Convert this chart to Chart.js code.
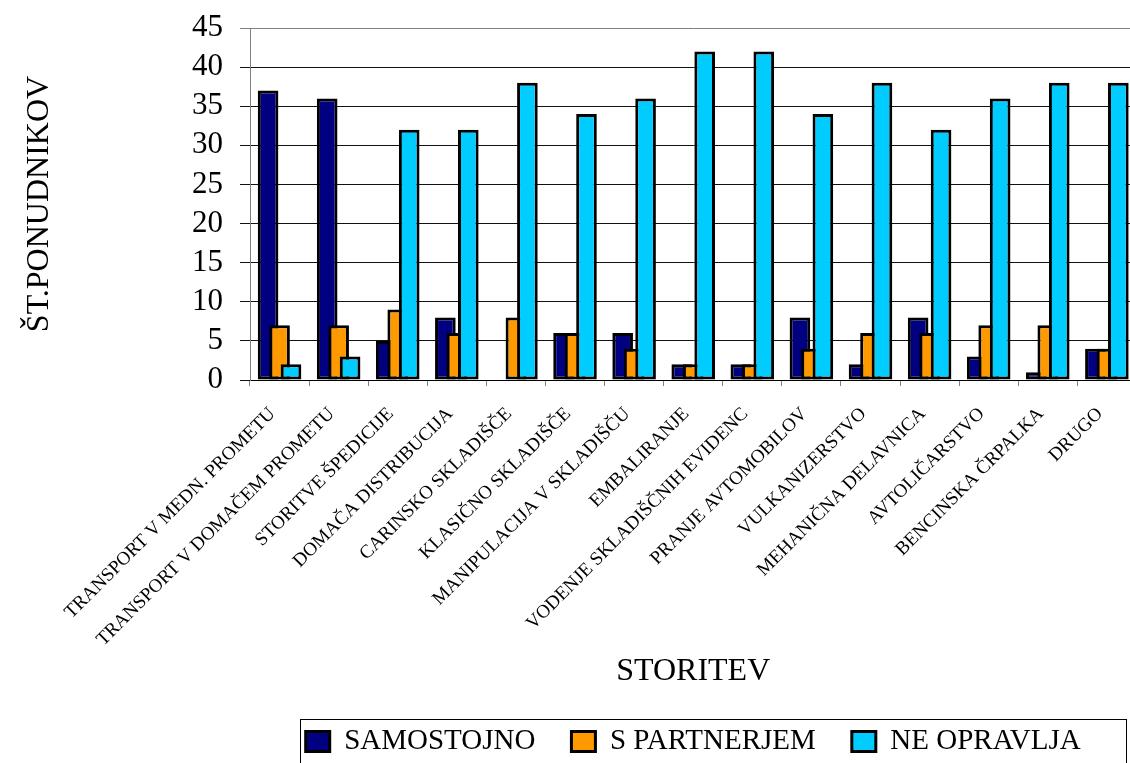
<!DOCTYPE html>
<html>
<head>
<meta charset="utf-8">
<title>Storitve ponudnikov</title>
<script src="https://cdn.jsdelivr.net/npm/chart.js"></script>
<style>
  html, body { margin: 0; padding: 0; background: #fff; overflow: hidden; }
  #wrap { width: 1140px; height: 763px; }
</style>
</head>
<body>
<div id="wrap"><canvas id="c" width="1140" height="763"></canvas></div>
<script>
// Services offered
const categories = [
  'TRANSPORT V MEDN. PROMETU',
  'TRANSPORT V DOMAČEM PROMETU',
  'STORITVE ŠPEDICIJE',
  'DOMAČA DISTRIBUCIJA',
  'CARINSKO SKLADIŠČE',
  'KLASIČNO SKLADIŠČE',
  'MANIPULACIJA V SKLADIŠČU',
  'EMBALIRANJE',
  'VODENJE SKLADIŠČNIH EVIDENC',
  'PRANJE AVTOMOBILOV',
  'VULKANIZERSTVO',
  'MEHANIČNA DELAVNICA',
  'AVTOLIČARSTVO',
  'BENCINSKA ČRPALKA',
  'DRUGO'
];

// Number of providers per answer
const samostojno  = [37, 36, 5, 8, 0, 6, 6, 2, 2, 8, 2, 8, 3, 1, 4];
const sPartnerjem = [7, 7, 9, 6, 8, 6, 4, 2, 2, 4, 6, 6, 7, 7, 4];
const neOpravlja  = [2, 3, 32, 32, 38, 34, 36, 42, 42, 34, 38, 32, 36, 38, 38];

const seriesNames = ['SAMOSTOJNO', 'S PARTNERJEM', 'NE OPRAVLJA'];
const yTicks = [0, 5, 10, 15, 20, 25, 30, 35, 40, 45];

const SERIF = "'Liberation Serif', 'Times New Roman', serif";
const colors = ['#000080', '#FF9900', '#00CCFF'];

// Later series are painted over earlier ones so the overlapping bars stack left-to-right
const paintInOrder = {
  id: 'paintInOrder',
  beforeDatasetsDraw(chart) {
    chart.getSortedVisibleDatasetMetas().forEach(m => chart._drawDataset(m));
    return false;
  }
};

// Frame around the legend row
const legendFrame = {
  id: 'legendFrame',
  afterDraw(chart) {
    const boxes = chart.legend && chart.legend.legendHitBoxes;
    if (!boxes || !boxes.length) return;
    const first = boxes[0], last = boxes[boxes.length - 1];
    const cy = first.top + first.height / 2;
    const ctx = chart.ctx;
    ctx.save();
    ctx.strokeStyle = '#000';
    ctx.lineWidth = 1;
    const x0 = Math.round(first.left - 6) + 0.5;
    const x1 = Math.round(last.left + last.width + 45) + 0.5;
    const y0 = Math.round(cy - 23) + 0.5;
    ctx.strokeRect(x0, y0, x1 - x0, chart.height + 10 - y0);
    ctx.restore();
  }
};

const makeSet = (label, data, i) => ({
  label,
  data,
  backgroundColor: colors[i],
  borderColor: '#000',
  borderWidth: 3,
  borderSkipped: false,
  categoryPercentage: 0.582,
  barPercentage: 1.8
});

new Chart(document.getElementById('c'), {
  type: 'bar',
  data: {
    labels: categories,
    datasets: [
      makeSet(seriesNames[0], samostojno, 0),
      makeSet(seriesNames[1], sPartnerjem, 1),
      makeSet(seriesNames[2], neOpravlja, 2)
    ]
  },
  plugins: [paintInOrder, legendFrame],
  options: {
    responsive: false,
    devicePixelRatio: 1,
    animation: false,
    layout: { padding: { top: 28, left: 0, right: 0, bottom: -3 } },
    plugins: {
      tooltip: { enabled: false },
      legend: {
        position: 'bottom',
        fullSize: false,
        labels: {
          color: '#000',
          font: { family: SERIF, size: 29 },
          boxWidth: 24,
          boxHeight: 20,
          padding: 36
        }
      }
    },
    scales: {
      x: {
        grid: {
          offset: true,
          drawOnChartArea: false,
          drawTicks: true,
          tickLength: 6,
          color: '#808080'
        },
        border: { color: '#000', width: 1 },
        ticks: {
          autoSkip: false,
          minRotation: 45,
          maxRotation: 45,
          padding: 17,
          labelOffset: -7,
          color: '#000',
          font: { family: SERIF, size: 19 }
        },
        title: {
          display: true,
          text: 'STORITEV',
          color: '#000',
          font: { family: SERIF, size: 32, lineHeight: 1.2 },
          padding: { top: 0, bottom: 0 }
        },
        afterFit(scale) { scale.height = 311; }
      },
      y: {
        min: 0,
        max: 45,
        afterBuildTicks(scale) { scale.ticks = yTicks.map(v => ({ value: v })); },
        grid: {
          drawTicks: true,
          tickLength: 10,
          color: ctx => (ctx.tick && ctx.tick.value === 45 ? '#808080' : '#111'),
          lineWidth: 1
        },
        border: { color: '#808080', width: 1 },
        ticks: {
          autoSkip: false,
          padding: 17,
          color: '#000',
          font: { family: SERIF, size: 31, lineHeight: 0.6 }
        },
        title: {
          display: true,
          text: 'ŠT.PONUDNIKOV',
          color: '#000',
          font: { family: SERIF, size: 32, lineHeight: 1.2 },
          padding: { top: 20, bottom: 0 }
        },
        afterFit(scale) { scale.width = 250; }
      }
    }
  }
});
</script>
</body>
</html>
